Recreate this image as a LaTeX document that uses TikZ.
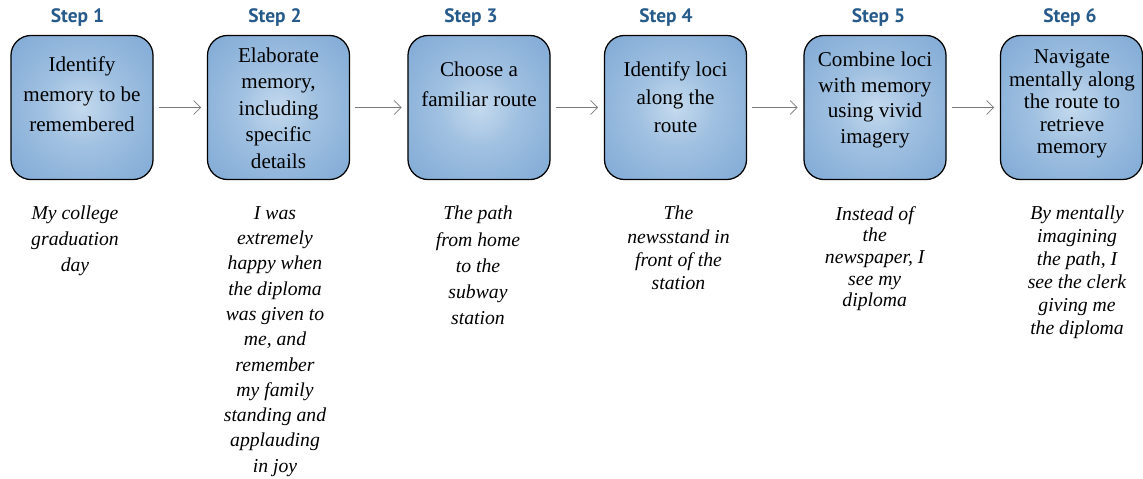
\documentclass[tikz,border=0pt]{standalone}
\usepackage{fontspec}
\setmainfont{Liberation Serif}
\newfontfamily\stepfont{PT Sans}
\usepackage{xcolor}
\usetikzlibrary{calc}
\usetikzlibrary{positioning}
\usetikzlibrary{arrows.meta}
\definecolor{steptitle}{HTML}{255A8A}
\definecolor{boxlight}{HTML}{C4DAEE}
\definecolor{boxdark}{HTML}{6A9ACD}
\colorlet{boxmid}{boxlight!60!boxdark}
\definecolor{arrowgray}{HTML}{7A7A7A}
\pgfdeclareradialshading{boxglow}{\pgfpoint{0bp}{0bp}}{color(0bp)=(boxlight); color(14bp)=(boxmid); color(50bp)=(boxdark)}
\tikzset{
	stepbox/.style={draw=black, line width=0.9pt, rounded corners=0.5cm, shade, shading=boxglow, minimum width=3.55cm, minimum height=3.6cm, inner sep=0pt},
	steplabel/.style={font=\stepfont\bfseries\fontsize{13.8pt}{15pt}\selectfont, text=steptitle, anchor=base, inner sep=0pt},
	boxtext/.style={font=\fontsize{15pt}{#1}\selectfont, align=center, anchor=north, inner sep=0pt},
	exampletext/.style={font=\itshape\fontsize{14pt}{#1}\selectfont, align=center, anchor=north, inner sep=0pt},
	>={Straight Barb[length=5pt,width=10pt]}
}
\begin{document}
\begin{tikzpicture}[x=0.025cm,y=-0.025cm]
\useasboundingbox (0,0) rectangle (1143,479);
\foreach \i/\x/\lx in {1/82/77.5,2/278.5/275,3/479/471,4/675.5/666,5/875/878.5,6/1071.5/1070}{
		\node[stepbox] (s\i) at (\x,107.5) {};
		\node[steplabel] (st\i) at (\lx,23) {Step \i};
}
\foreach \i in {1,...,5}{
		\pgfmathtruncatemacro\j{\i+1}
		\draw[arrowgray,line width=0.6pt,->,shorten <=3.5pt,shorten >=4pt] (s\i) -- (s\j);
}
\node[boxtext=21.3pt] (t1) at (82,56.6) {Identify\\memory to be\\remembered};
\node[boxtext=18.8pt] (t2) at (278.5,47.6) {Elaborate\\memory,\\including\\specific\\details};
\node[boxtext=21.3pt] (t3) at (479,61.6) {Choose a\\familiar route};
\node[boxtext=19.9pt] (t4) at (675.5,61.6) {Identify loci\\along the\\route};
\node[boxtext=18.3pt] (t5) at (875,51.6) {Combine loci\\with memory\\using vivid\\imagery};
\node[boxtext=16pt] (t6) at (1072,49.6) {Navigate\\mentally along\\the route to\\retrieve\\memory};

\node[exampletext=18.5pt] (e1) at (75,206) {My college\\graduation\\day};
\node[exampletext=18pt] (e2) at (275,206) {I was\\extremely\\happy when\\the diploma\\was given to\\me, and\\remember\\my family\\standing and\\applauding\\in joy};
\node[exampletext=18.6pt] (e3) at (478,206) {The path\\from home\\to the\\subway\\station};
\node[exampletext=16.5pt] (e4) at (678.5,206) {The\\newsstand in\\front of the\\station};
\node[exampletext=15.4pt] (e5) at (874.7,206) {Instead of\\the\\newspaper, I\\see my\\diploma};
\node[exampletext=16.3pt] (e6) at (1077,206) {By mentally\\imagining\\the path, I\\see the clerk\\giving me\\the diploma};
\end{tikzpicture}
\end{document}
